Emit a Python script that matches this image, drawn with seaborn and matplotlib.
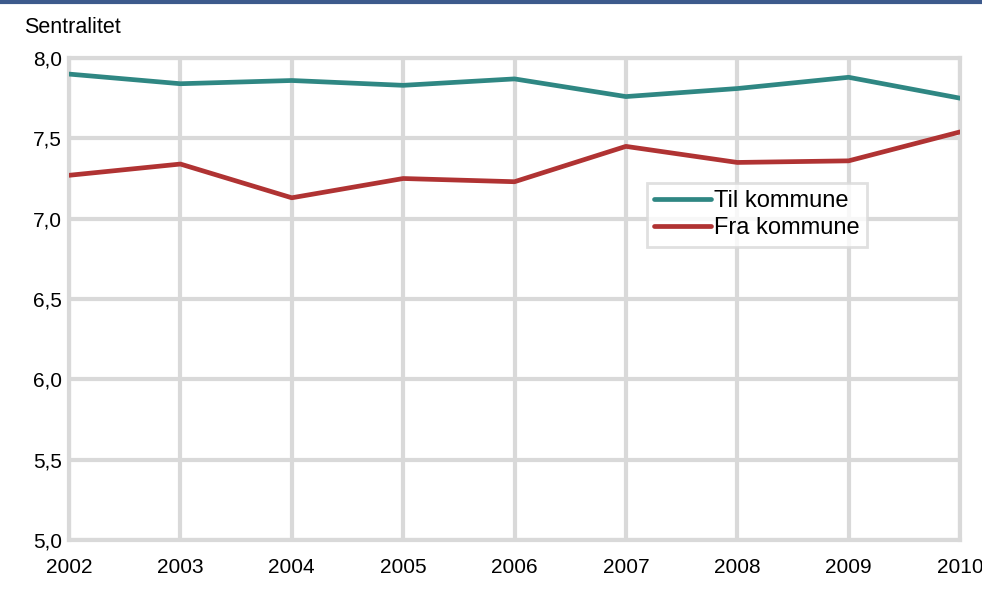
import matplotlib
matplotlib.use("Agg")
import matplotlib.pyplot as plt
from matplotlib.lines import Line2D
from matplotlib.ticker import FuncFormatter
import pandas as pd
import seaborn as sns

years = [2002, 2003, 2004, 2005, 2006, 2007, 2008, 2009, 2010]
til_kommune = [7.90, 7.84, 7.86, 7.83, 7.87, 7.76, 7.81, 7.88, 7.75]
fra_kommune = [7.27, 7.34, 7.13, 7.25, 7.23, 7.45, 7.35, 7.36, 7.54]
series_names = ["Til kommune", "Fra kommune"]
colors = ["#2f8783", "#b03333"]

df = pd.DataFrame({
    "year": years * 2,
    "value": til_kommune + fra_kommune,
    "series": [series_names[0]] * len(years) + [series_names[1]] * len(years),
})

sns.set_style("white")
plt.rcParams["font.family"] = ["Liberation Sans", "DejaVu Sans"]
plt.rcParams["font.size"] = 15
plt.rcParams["text.color"] = "black"

fig = plt.figure(figsize=(9.82, 5.89), dpi=100)
ax = fig.add_axes([0.0703, 0.0832, 0.9073, 0.8183])

grid_c = "#d9d9d9"
sns.lineplot(data=df, x="year", y="value", hue="series", palette=colors,
             linewidth=3.4, ax=ax, legend=False, zorder=3)

ax.set_xlim(2002, 2010)
ax.set_ylim(5.0, 8.0)
ax.set_xticks(years)
ax.set_yticks([5.0, 5.5, 6.0, 6.5, 7.0, 7.5, 8.0])
ax.yaxis.set_major_formatter(FuncFormatter(lambda v, p: f"{v:.1f}".replace(".", ",")))
ax.grid(True, color=grid_c, linewidth=3)
ax.set_axisbelow(True)
for s in ax.spines.values():
    s.set_color(grid_c)
    s.set_linewidth(3)
ax.tick_params(axis="both", length=0, labelsize=15, colors="black")
ax.tick_params(axis="x", pad=13)
ax.tick_params(axis="y", pad=5)
ax.set_xlabel("")
ax.set_ylabel("")

handles = [Line2D([0], [0], color=c, linewidth=3.4) for c in colors]
leg = fig.legend(handles, series_names, loc="upper left",
                 bbox_to_anchor=(0.659, 0.689), frameon=True, fancybox=False,
                 fontsize=17, handlelength=2.4, handletextpad=0.15,
                 labelspacing=0.22, borderpad=0.3, borderaxespad=0,
                 labelcolor="black")
leg.get_frame().set_edgecolor(grid_c)
leg.get_frame().set_linewidth(2)

fig.text(0.024, 0.953, "Sentralitet", fontsize=15.5, ha="left", va="center")
fig.add_artist(Line2D([0, 1], [0.997, 0.997], color="#3d5a8c", linewidth=3,
                      transform=fig.transFigure))

fig.savefig("out.png", dpi=100)
